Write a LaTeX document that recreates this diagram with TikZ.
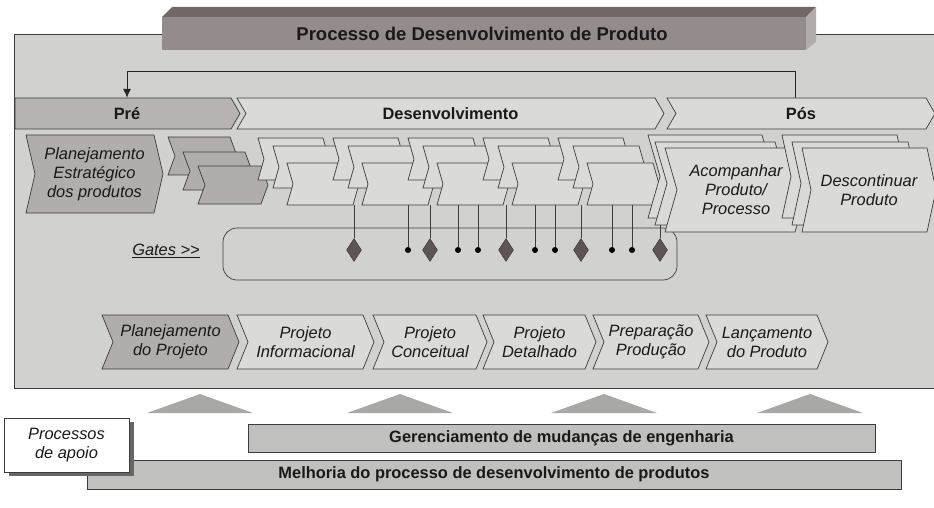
\documentclass[tikz,border=0pt]{standalone}
\usepackage{fontspec}
\setmainfont{Liberation Sans}
\usetikzlibrary{arrows.meta,shapes.geometric,shadows}
\definecolor{panelc}{RGB}{209,209,207}
\definecolor{litec}{RGB}{218,218,216}
\definecolor{darkc}{RGB}{176,173,171}
\definecolor{prec}{RGB}{182,179,177}
\definecolor{linec}{RGB}{60,60,60}
\definecolor{gatec}{RGB}{94,84,83}
\definecolor{barc}{RGB}{192,192,190}
\definecolor{tric}{RGB}{168,168,166}
\definecolor{frontc}{RGB}{148,140,138}
\definecolor{topc}{RGB}{112,104,102}
\definecolor{sidec}{RGB}{178,172,170}
\newcommand{\chfont}{\fontsize{16.4}{19}\selectfont\itshape}
\newcommand{\bfont}{\fontsize{16.4}{19}\selectfont\bfseries}
\tikzset{
  >=Latex,
  lite/.style={draw=linec, fill=litec, line width=0.7pt},
  dark/.style={draw=linec, fill=darkc, line width=0.7pt},
  chtxt/.style={inner sep=0pt, align=center, font=\chfont, text=black!90},
  bartxt/.style={inner sep=0pt, font=\bfont, text=black!90},
  gate/.style={diamond, fill=gatec, draw=gatec!60!black, inner sep=0pt, minimum width=15pt, minimum height=23pt},
  mile/.style={circle, fill=black, inner sep=0pt, minimum size=6pt},
  gl/.style={draw=linec, line width=0.7pt},
  fb/.style={-{Latex[length=9pt,width=8pt]}, line width=0.9pt, draw=black!85},
  bar/.style={draw=linec, fill=barc, line width=0.6pt, inner sep=0pt, font=\bfont, text=black!90}
}
% chevron: [style]{name}{x left}{y top}{x right}{y bottom}{depth}{text}
\newcommand{\chev}[8][lite]{%
  \draw[#1] (#3,#4) -- (#5,#4) -- ({#5+#7},{(#4+#6)/2}) -- (#5,#6) -- (#3,#6)
    -- ({#3+#7},{(#4+#6)/2}) -- cycle;
  \node[chtxt, minimum width={(#5-(#3))*1pt}, minimum height={(#6-(#4))*1pt}] (#2)
    at ({(#3+#5+#7)/2},{(#4+#6)/2}) {#8};
}

\begin{document}
\begin{tikzpicture}[x=1pt, y=-1pt]
\useasboundingbox (0,0) rectangle (934,508);
% main panel
\draw[fill=panelc, draw=linec, line width=0.7pt] (14,34) rectangle (940,388);

% title block
\fill[topc] (162,17) -- (172,7) -- (816,7) -- (806,17) -- cycle;
\fill[sidec] (806,17) -- (816,7) -- (816,42) -- (806,50) -- cycle;
\fill[frontc] (162,17) rectangle (806,50);
\node[font=\fontsize{18.5}{22}\selectfont\bfseries, text=black!90] (title) at (482,33.5) {Processo de Desenvolvimento de Produto};

% phases
\draw[draw=linec, fill=prec, line width=0.7pt] (15,98) -- (231,98) -- (240,113.5) -- (231,129) -- (15,129) -- cycle;
\node[bartxt, minimum width=216pt, minimum height=31pt] (pre) at (127,113.5) {Pré};
\chev{dev}{237}{98}{655}{129}{9}{\upshape\bfseries Desenvolvimento}
\chev{pos}{667}{98}{926}{129}{9}{\upshape\bfseries Pós}
\draw[fb] ([xshift=-6pt]pos.north) -- ++(0,-26) -| (pre.north);

% gates box
\draw[gl, rounded corners=14pt] (223,228) rectangle (677,280);
\node[chtxt] (gates) at (166,251) {\underline{Gates >{}>}};

% strategic planning and stacked activities
\chev[dark]{strat}{26}{135}{154}{213}{9}{Planejamento\\Estratégico\\dos produtos}
\chev[dark]{s1}{168}{137}{230}{175}{7}{}
\chev[dark]{s2}{183}{152}{245}{190}{7}{}
\chev[dark]{s3}{198}{166}{261}{204}{7}{}
\foreach \g in {1,...,5}{
  \pgfmathsetmacro{\fx}{287+75*(\g-1)}
  \chev{b\g}{\fx-29}{138}{\fx+36}{180}{6}{}
  \chev{m\g}{\fx-14}{146}{\fx+52}{188}{6}{}
  \chev{f\g}{\fx}{163}{\fx+66}{205}{6}{}
}
\chev{acB}{648}{135}{762}{218}{12}{}
\chev{acM}{655}{142}{775}{225}{12}{}
\chev{ac}{665}{148}{795}{232}{12}{Acompanhar\\Produto/\\Processo}
\chev{dsB}{782}{135}{897}{218}{9}{}
\chev{dsM}{792}{142}{908}{225}{9}{}
\chev{ds}{802}{148}{927}{232}{9}{Descontinuar\\Produto}

% gates and milestones
\foreach \n/\x in {1/354,2/430,3/506,4/581,5/660}
  \node[gate] (d\n) at (\x,250) {};
\foreach \n/\x in {1/408,2/458,3/478,4/535,5/555,6/612,7/632}
  \node[mile] (p\n) at (\x,250) {};
\draw[gl] (f1.south -| d1) -- (d1.north);
\draw[gl] (f2.south -| p1) -- (p1);
\draw[gl] (f2.south -| d2) -- (d2.north);
\draw[gl] (f3.south -| p2) -- (p2);
\draw[gl] (f3.south -| p3) -- (p3);
\draw[gl] (f3.south -| d3) -- (d3.north);
\draw[gl] (f4.south -| p4) -- (p4);
\draw[gl] (f4.south -| p5) -- (p5);
\draw[gl] (f4.south -| d4) -- (d4.north);
\draw[gl] (f5.south -| p6) -- (p6);
\draw[gl] (f5.south -| p7) -- (p7);
\draw[gl] (acM.south -| d5) -- (d5.north);

% project phases
\chev[dark]{plan}{102}{315}{228}{369}{11}{Planejamento\\do Projeto}
\chev{info}{237}{315}{363}{369}{11}{Projeto\\Informacional}
\chev{conc}{373}{315}{476}{369}{11}{Projeto\\Conceitual}
\chev{deta}{483}{315}{585}{369}{11}{Projeto\\Detalhado}
\chev{prep}{593}{315}{698}{369}{11}{Preparação\\Produção}
\chev{lanc}{706}{315}{817}{369}{11}{Lançamento\\do Produto}

% support processes
\foreach \x in {200,400,604,810}
  \fill[tric] (\x-53,413) -- (\x,394) -- (\x+53,413) -- cycle;
\node[bar, minimum width=814pt, minimum height=29pt] (impr) at (494,474.5) {Melhoria do processo de desenvolvimento de produtos};
\node[bar, minimum width=627pt, minimum height=28pt] (chg) at (561.5,438) {Gerenciamento de mudanças de engenharia};
\node[chtxt, draw=linec, fill=white, line width=0.6pt, minimum width=125pt, minimum height=54pt,
  drop shadow={shadow xshift=5pt, shadow yshift=-4pt, fill=black!60, opacity=1}] (apoio) at (66.5,445) {Processos\\de apoio};
\end{tikzpicture}
\end{document}
